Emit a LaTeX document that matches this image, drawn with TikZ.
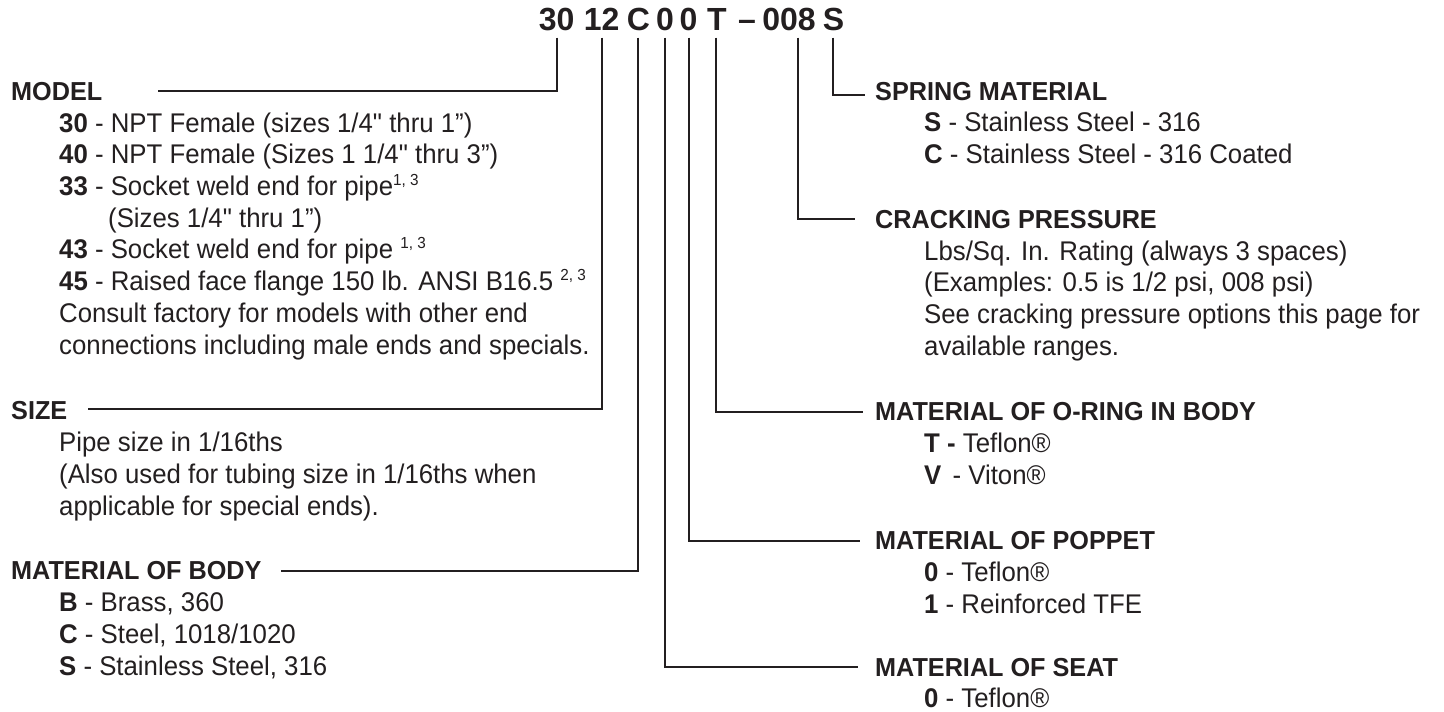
\documentclass[tikz,border=0pt]{standalone}
\usepackage{fontspec}
\setmainfont{Liberation Sans}
\newfontfamily\bodyfam{Liberation Sans}[FakeStretch=0.955]
\newfontfamily\hdrfam{Liberation Sans}[FakeStretch=0.97]
\newfontfamily\codefam{Liberation Sans}[FakeStretch=1.0]
\definecolor{ink}{HTML}{231F20}
\newcommand{\supr}[1]{\raisebox{10pt}{\fontsize{16}{16}\selectfont #1}}
\begin{document}
\begin{tikzpicture}[x=1pt,y=-1pt,
  hdr/.style={anchor=base west,inner sep=0pt,text=ink,font=\hdrfam\bfseries\fontsize{26}{30}\selectfont},
  itm/.style={anchor=base west,inner sep=0pt,text=ink,font=\bodyfam\fontsize{27}{30}\selectfont},
  codech/.style={anchor=base,inner sep=0pt,text depth=0pt,text=ink,font=\codefam\bfseries\fontsize{32}{36}\selectfont},
  conn/.style={draw=ink,line width=2pt}]
\useasboundingbox[fill=white] (0,0) rectangle (1444,712);

% code
\node[codech] (c30) at (556.7,30.7) {30};
\node[codech] (c12) at (601.7,30.7) {12};
\node[codech] (cC) at (638.3,30.7) {C};
\node[codech] (cSeat) at (665,30.7) {0};
\node[codech] (cPop) at (688.6,30.7) {0};
\node[codech] (cT) at (717,30.7) {T};
\node[codech] (cdash) at (747,30.7) {–};
\node[codech] (c008) at (789,30.7) {008};
\node[codech] (cS) at (833.5,30.7) {S};

% left column
\node[hdr] (model) at (11,100) {MODEL};
\node[itm] (m1) at (59,132) {\textbf{30} - NPT Female (sizes 1/4" thru 1”)};
\node[itm] (m2) at (59,163.7) {\textbf{40} - NPT Female (Sizes 1 1/4" thru 3”)};
\node[itm] (m3) at (59,195.4) {\textbf{33} - Socket weld end for pipe\supr{1, 3}};
\node[itm] (m4) at (108,227) {(Sizes 1/4" thru 1”)};
\node[itm] (m5) at (59,258.8) {\textbf{43} - Socket weld end for pipe \supr{1, 3}};
\node[itm] (m6) at (59,290.5) {\textbf{45} - Raised face flange 150 lb. ANSI B16.5 \supr{2, 3}};
\node[itm] (m7) at (59,322.2) {Consult factory for models with other end};
\node[itm] (m8) at (59,354) {connections including male ends and specials.};

\node[hdr] (size) at (11,419) {SIZE};
\node[itm] (s1) at (59,451) {Pipe size in 1/16ths};
\node[itm] (s2) at (59,483) {(Also used for tubing size in 1/16ths when};
\node[itm] (s3) at (59,515) {applicable for special ends).};

\node[hdr] (body) at (11,579) {MATERIAL OF BODY};
\node[itm] (b1) at (59,611) {\textbf{B} - Brass, 360};
\node[itm] (b2) at (59,643) {\textbf{C} - Steel, 1018/1020};
\node[itm] (b3) at (59,675) {\textbf{S} - Stainless Steel, 316};

% right column
\node[hdr] (spring) at (875,100) {SPRING MATERIAL};
\node[itm] (r1) at (924,131.7) {\textbf{S} - Stainless Steel - 316};
\node[itm] (r2) at (924,163.5) {\textbf{C} - Stainless Steel - 316 Coated};

\node[hdr] (crack) at (875,228.5) {CRACKING PRESSURE};
\node[itm] (k1) at (924,260) {Lbs/Sq. In. Rating (always 3 spaces)};
\node[itm] (k2) at (924,291.5) {(Examples: 0.5 is 1/2 psi, 008 psi)};
\node[itm] (k3) at (924,323) {See cracking pressure options this page for};
\node[itm] (k4) at (924,355) {available ranges.};

\node[hdr] (oring) at (875,420) {MATERIAL OF O-RING IN BODY};
\node[itm] (o1) at (924,452) {\textbf{T -} Teflon®};
\node[itm] (o2) at (924,484) {\textbf{V}\hspace{4pt} - Viton®};

\node[hdr] (poppet) at (875,549) {MATERIAL OF POPPET};
\node[itm] (p1) at (924,581) {\textbf{0} - Teflon®};
\node[itm] (p2) at (924,613) {\textbf{1} - Reinforced TFE};

\node[hdr] (seat) at (875,676) {MATERIAL OF SEAT};
\node[itm] (t1) at (924,707) {\textbf{0} - Teflon®};

% connector ends
\coordinate (eModel) at (158,90.7);
\coordinate (eSize) at (88,409.3);
\coordinate (eBody) at (281,571);
\coordinate (eSpring) at (865,95);
\coordinate (eCrack) at (855,219);
\coordinate (eOring) at (862.5,411.7);
\coordinate (ePop) at (860,540.7);
\coordinate (eSeat) at (857.5,667.3);

\draw[conn] ([yshift=-6.6pt]c30.south) |- (eModel);
\draw[conn] ([yshift=-6.6pt]c12.south) |- (eSize);
\draw[conn] ([yshift=-6.6pt]cC.south) |- (eBody);
\draw[conn] ([yshift=-6.6pt]cSeat.south) |- (eSeat);
\draw[conn] ([yshift=-6.6pt]cPop.south) |- (ePop);
\draw[conn] ([xshift=-1pt,yshift=-6.6pt]cT.south) |- (eOring);
\draw[conn] ([xshift=8.7pt,yshift=-6.6pt]c008.south) |- (eCrack);
\draw[conn] ([xshift=-0.8pt,yshift=-6.6pt]cS.south) |- (eSpring);
\end{tikzpicture}
\end{document}
